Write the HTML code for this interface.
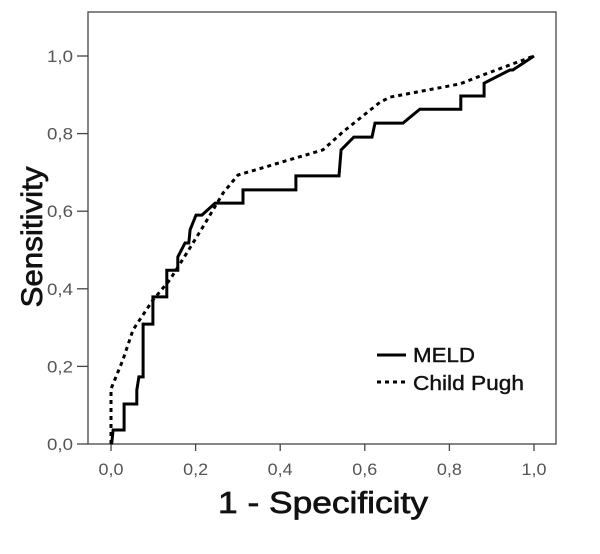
<!DOCTYPE html>
<html><head><meta charset="utf-8"><style>
body{margin:0;background:#fff;}
svg{display:block;font-family:"Liberation Sans",Arial,sans-serif;}
</style></head><body>
<svg id="chart" width="600" height="554" viewBox="0 0 600 554">
<rect x="88" y="12" width="468" height="432" fill="none" stroke="#444" stroke-width="1.3"/>
<g id="axes"></g>
<g id="series"></g>
<text x="42" y="237" transform="rotate(-90 42 237)" text-anchor="middle" font-size="30" stroke="#111" stroke-width="0.7" textLength="141" lengthAdjust="spacingAndGlyphs" fill="#111">Sensitivity</text>
<text x="323" y="513" text-anchor="middle" font-size="31" stroke="#111" stroke-width="0.7" textLength="210" lengthAdjust="spacingAndGlyphs" fill="#111">1 - Specificity</text>
<g>
<line x1="377" y1="355" x2="406" y2="355" stroke="#000" stroke-width="3"/>
<text x="413" y="362" font-size="20" stroke="#111" stroke-width="0.4" textLength="62" lengthAdjust="spacingAndGlyphs" fill="#111">MELD</text>
<line x1="377" y1="382" x2="406" y2="382" stroke="#000" stroke-width="3" stroke-dasharray="4,4"/>
<text x="413" y="390" font-size="20" stroke="#111" stroke-width="0.4" textLength="111" lengthAdjust="spacingAndGlyphs" fill="#111">Child Pugh</text>
</g>
</svg>
<script>
const ticks = [0, 0.2, 0.4, 0.6, 0.8, 1.0];
const tickLabels = ["0,0", "0,2", "0,4", "0,6", "0,8", "1,0"];
const meldX = [0,0.002,0.005,0.031,0.031,0.061,0.061,0.066,0.076,0.076,0.099,0.099,0.132,0.132,0.158,0.158,0.175,0.184,0.187,0.201,0.215,0.246,0.312,0.312,0.437,0.437,0.539,0.544,0.574,0.617,0.624,0.690,0.730,0.827,0.827,0.882,0.882,0.943,0.950,1];
const meldY = [0,0.003,0.036,0.036,0.103,0.103,0.139,0.173,0.173,0.309,0.309,0.379,0.379,0.448,0.448,0.482,0.518,0.518,0.552,0.590,0.590,0.621,0.621,0.655,0.655,0.691,0.691,0.758,0.791,0.791,0.827,0.827,0.863,0.863,0.897,0.897,0.930,0.964,0.964,1];
const cpX = [0,0,0,0.002,0.028,0.052,0.064,0.099,0.139,0.179,0.217,0.265,0.300,0.501,0.548,0.636,0.660,0.825,0.879,1];
const cpY = [0,0.036,0.139,0.147,0.216,0.294,0.314,0.371,0.423,0.492,0.559,0.647,0.693,0.758,0.804,0.881,0.894,0.928,0.951,1];
const NS = "http://www.w3.org/2000/svg";
const sx = v => 111 + v * 423;
const sy = v => 444 - v * 388;
const axes = document.getElementById("axes");
function mk(tag, attrs, parent){const e=document.createElementNS(NS,tag);for(const k in attrs)e.setAttribute(k,attrs[k]);parent.appendChild(e);return e;}
ticks.forEach((t,i)=>{
  let l=mk("line",{x1:sx(t),x2:sx(t),y1:444,y2:451,stroke:"#444","stroke-width":1.3},axes);
  
  
  let tx=mk("text",{x:sx(t),y:475,"text-anchor":"middle","font-size":17,textLength:25,lengthAdjust:"spacingAndGlyphs",fill:"#555"},axes);
  tx.textContent=tickLabels[i];
  
  
  let l2=mk("line",{x1:77,x2:88,y1:sy(t),y2:sy(t),stroke:"#444","stroke-width":1.3},axes);
  
  
  let ty=mk("text",{x:73,y:sy(t)+6,"text-anchor":"end","font-size":17,textLength:26,lengthAdjust:"spacingAndGlyphs",fill:"#555"},axes);
  ty.textContent=tickLabels[i];
  
  
});
const series = document.getElementById("series");
function pts(xs,ys){return xs.map((x,i)=>sx(x).toFixed(1)+","+sy(ys[i]).toFixed(1)).join(" ");}
let p1=mk("polyline",{points:pts(cpX,cpY),fill:"none",stroke:"#000","stroke-width":3,"stroke-dasharray":"4,4"},series);


let p2=mk("polyline",{points:pts(meldX,meldY),fill:"none",stroke:"#000","stroke-width":3,"stroke-linejoin":"miter"},series);


</script>
</body></html>
